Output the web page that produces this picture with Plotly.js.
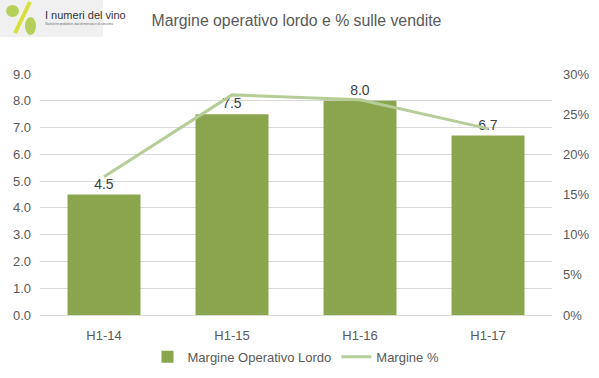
<!DOCTYPE html>
<html>
<head>
<meta charset="utf-8">
<script src="https://cdn.plot.ly/plotly-3.0.1.min.js"></script>
<style>html,body{margin:0;padding:0;background:#fff}#chart{width:599px;height:378px}</style>
</head>
<body>
<div id="chart"></div>
<script>
var categories = ["H1-14", "H1-15", "H1-16", "H1-17"];
var mol = [4.5, 7.5, 8.0, 6.7];
var marginePct = [0.172, 0.274, 0.268, 0.232];
var leftTicks = [0, 1, 2, 3, 4, 5, 6, 7, 8, 9];
var rightTicks = [0, 0.05, 0.10, 0.15, 0.20, 0.25, 0.30];

var txt = "#595959";
var data = [
  {
    type: "bar", x: categories, y: mol, name: "Margine Operativo Lordo",
    marker: {color: "#8ba44e"},
    text: mol.map(function(v){return v.toFixed(1);}),
    textposition: "outside", cliponaxis: false,
    textfont: {family: "Liberation Sans, Arial", size: 14, color: "#404040"},
    width: 0.57
  },
  {
    type: "scatter", mode: "lines", x: categories, y: marginePct, yaxis: "y2",
    name: "Margine %", line: {color: "#b7cd98", width: 3}
  }
];
var layout = {
  width: 599, height: 378,
  margin: {l: 40, r: 47, t: 74, b: 63},
  paper_bgcolor: "#fff", plot_bgcolor: "#fff",
  showlegend: true,
  title: {text: "Margine operativo lordo e % sulle vendite", x: 0.495, xanchor: "center", y: 0.947, yanchor: "middle",
          font: {family: "Liberation Sans, Arial", size: 15.8, color: txt}},
  xaxis: {showgrid: false, showline: true, linecolor: "#d9d9d9", linewidth: 1, ticks: "",
          tickfont: {family: "Liberation Sans, Arial", size: 13, color: txt}, ticklabelstandoff: 8},
  yaxis: {range: [0, 9], tickvals: leftTicks, tickformat: ".1f", showgrid: true, gridcolor: "#d9d9d9",
          zeroline: false, showline: false, ticks: "", ticklabelstandoff: 8,
          tickfont: {family: "Liberation Sans, Arial", size: 13, color: txt}},
  yaxis2: {overlaying: "y", side: "right", range: [0, 0.30], tickvals: rightTicks, tickformat: ".0%",
           showgrid: false, zeroline: false, showline: false, ticks: "", ticklabelstandoff: 10,
           tickfont: {family: "Liberation Sans, Arial", size: 13, color: txt}},
  legend: {orientation: "h", x: 0.5, xanchor: "center", yref: "container", y: 0.056, yanchor: "middle",
           font: {family: "Liberation Sans, Arial", size: 13, color: txt}, traceorder: "normal"}
};
var pw = 599 - 40 - 47, ph = 378 - 74 - 63;
function px(x){return (x - 40) / pw;}
function py(y){return (378 - 63 - y) / ph;}
layout.shapes = [
  {type: "rect", xref: "paper", yref: "paper", x0: px(0), x1: px(103), y0: py(37), y1: py(0), fillcolor: "#f0f0f0", line: {width: 0}, layer: "below"},
  {type: "line", xref: "paper", yref: "paper", x0: px(15), y0: py(33), x1: px(30), y1: py(2), line: {color: "#d7e03a", width: 4}},
  {type: "circle", xref: "paper", yref: "paper", x0: px(6), x1: px(19), y0: py(17), y1: py(5), fillcolor: "#b5cf5a", line: {width: 0}},
  {type: "circle", xref: "paper", yref: "paper", x0: px(25), x1: px(36), y0: py(35), y1: py(17), fillcolor: "#b5cf5a", line: {width: 0}}
];
layout.annotations = [
  {xref: "paper", yref: "paper", x: px(43), y: py(15), xanchor: "left", yanchor: "middle", showarrow: false,
   text: "I numeri del vino", font: {family: "Liberation Sans Narrow, Liberation Sans", size: 11, color: "#333"}},
  {xref: "paper", yref: "paper", x: px(43), y: py(24), xanchor: "left", yanchor: "middle", showarrow: false,
   text: "Statistiche produttive, dati di mercato e di consumo", font: {family: "Liberation Sans", size: 3, color: "#666"}}
];
Plotly.newPlot("chart", data, layout, {displayModeBar: false});
</script>
</body>
</html>
